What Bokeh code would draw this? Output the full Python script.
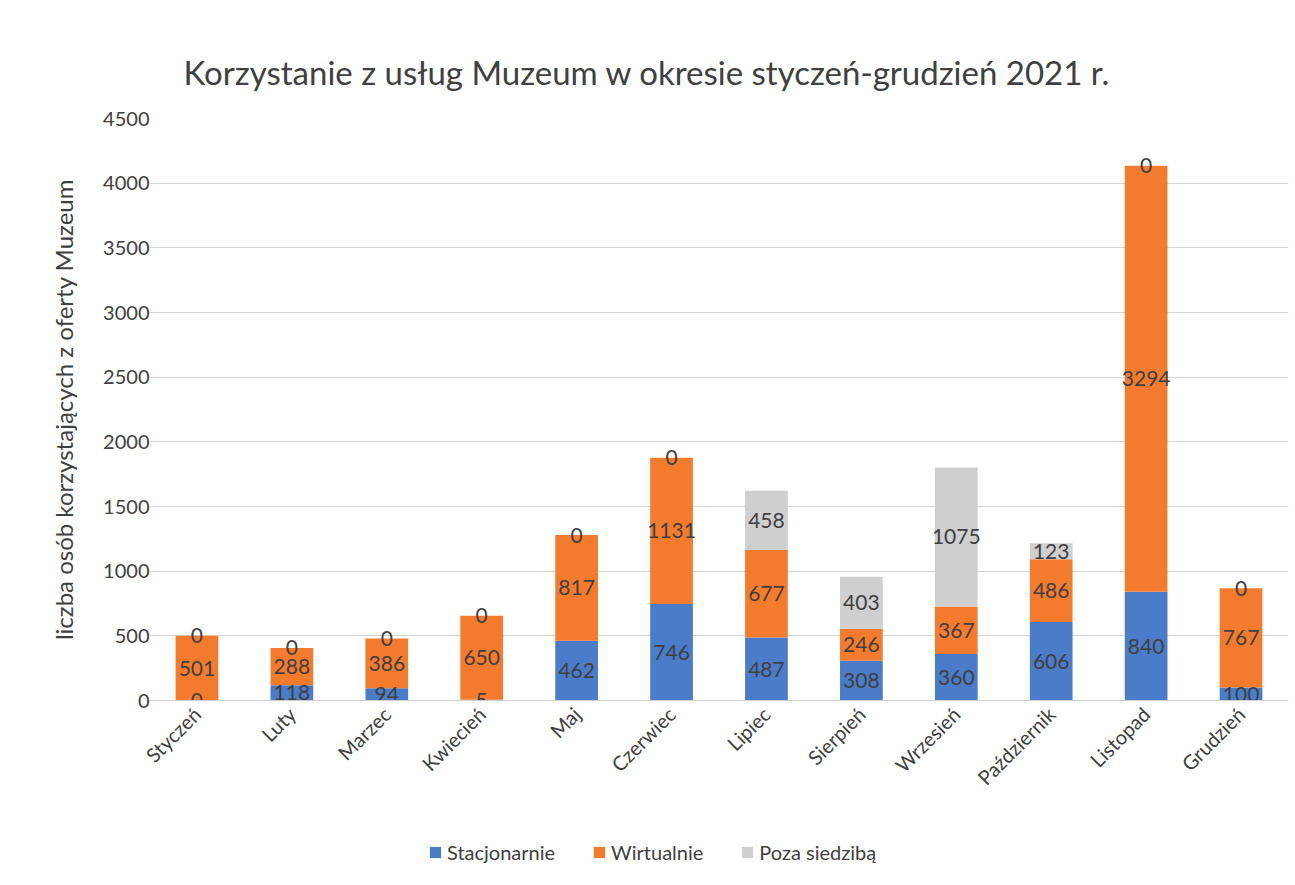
import math
from bokeh.plotting import figure
from bokeh.layouts import column
from bokeh.models import ColumnDataSource, FactorRange, Legend, LegendItem, Title, Range1d
from bokeh.core.properties import value
from bokeh.embed import file_html
from bokeh.resources import INLINE

months = ["Styczeń", "Luty", "Marzec", "Kwiecień", "Maj", "Czerwiec", "Lipiec",
          "Sierpień", "Wrzesień", "Październik", "Listopad", "Grudzień"]
stacjonarnie = [0, 118, 94, 5, 462, 746, 487, 308, 360, 606, 840, 100]
wirtualnie = [501, 288, 386, 650, 817, 1131, 677, 246, 367, 486, 3294, 767]
poza = [0, 0, 0, 0, 0, 0, 458, 403, 1075, 123, 0, 0]
series_names = ["Stacjonarnie", "Wirtualnie", "Poza siedzibą"]
colors = ["#4a7cc9", "#f47b2e", "#cfcfcf"]
title_text = "Korzystanie z usług Muzeum w okresie styczeń-grudzień 2021 r."
y_label = "liczba osób korzystających z oferty Muzeum"

FONT = "Lato"

source = ColumnDataSource(dict(month=months, s=stacjonarnie, w=wirtualnie, p=poza))

p = figure(x_range=FactorRange(*months, range_padding=0), y_range=(0, 4500),
           width=1290, height=820, output_backend="svg", toolbar_location=None,
           min_border_left=149, min_border_right=2, min_border_top=118,
           min_border_bottom=120)
p.outline_line_color = None

renderers = p.vbar_stack(["s", "w", "p"], x="month", width=0.45, color=colors,
                         source=source, line_color=None)

# data labels centered in each segment
lx, ly, lt = [], [], []
for i, m in enumerate(months):
    base = 0
    for vals in (stacjonarnie, wirtualnie, poza):
        v = vals[i]
        lx.append(m)
        ly.append(base + v / 2)
        lt.append(str(v))
        base += v
lsrc = ColumnDataSource(dict(x=lx, y=ly, t=lt))
p.text(x="x", y="y", text="t", source=lsrc, text_align="center",
       text_baseline="middle", text_font=value(FONT), text_font_size="21px",
       text_color="#404040")

# axes
p.yaxis.ticker = [0, 500, 1000, 1500, 2000, 2500, 3000, 3500, 4000, 4500]
p.yaxis.axis_line_color = None
p.yaxis.major_tick_line_color = None
p.yaxis.minor_tick_line_color = None
p.yaxis.major_label_text_font = FONT
p.yaxis.major_label_text_font_size = "20px"
p.yaxis.major_label_text_color = "#404040"
p.yaxis.major_label_standoff = -6
p.yaxis.axis_label = y_label
p.yaxis.axis_label_text_font = FONT
p.yaxis.axis_label_text_font_size = "24px"
p.yaxis.axis_label_text_font_style = "normal"
p.yaxis.axis_label_text_color = "#404040"
p.yaxis.axis_label_standoff = 22

p.xaxis.axis_line_color = "#d0d0d0"
p.xaxis.major_tick_line_color = None
p.xaxis.minor_tick_line_color = None
p.xaxis.major_label_orientation = math.pi / 4
p.xaxis.major_label_text_font = FONT
p.xaxis.major_label_text_font_size = "20px"
p.xaxis.major_label_text_color = "#404040"
p.xaxis.major_label_standoff = 4

p.xgrid.grid_line_color = None
p.ygrid.grid_line_color = "#d6d6d6"

# title
p.title = Title(text=title_text, text_font=FONT, text_font_size="33px",
                text_color="#404040", text_font_style="normal",
                align="left", offset=34, standoff=54)

# legend in its own strip below the chart (series totals as zero-size proxies, out of view)
lf = figure(width=1290, height=44, output_backend="svg", toolbar_location=None,
            x_range=Range1d(0, 1), y_range=Range1d(0, 1),
            x_axis_type=None, y_axis_type=None, min_border=0)
lf.outline_line_color = None
lf.xgrid.grid_line_color = None
lf.ygrid.grid_line_color = None
leg_r = []
for vals, c in zip((stacjonarnie, wirtualnie, poza), colors):
    tot = sum(vals) + 10
    src = ColumnDataSource(dict(l=[tot], r=[tot], t=[tot], b=[tot]))
    leg_r.append(lf.quad(left="l", right="r", top="t", bottom="b", source=src,
                         fill_color=c, line_color=None))
legend = Legend(items=[LegendItem(label=n, renderers=[r]) for n, r in zip(series_names, leg_r)],
                orientation="horizontal", location=(279, 0),
                label_text_font=FONT, label_text_font_size="20px",
                label_text_color="#404040", glyph_width=14, glyph_height=14,
                spacing=37, margin=0, background_fill_alpha=0, border_line_color=None)
lf.add_layout(legend, "center")

open("out.html", "w").write(file_html(column(p, lf, spacing=0), INLINE))
